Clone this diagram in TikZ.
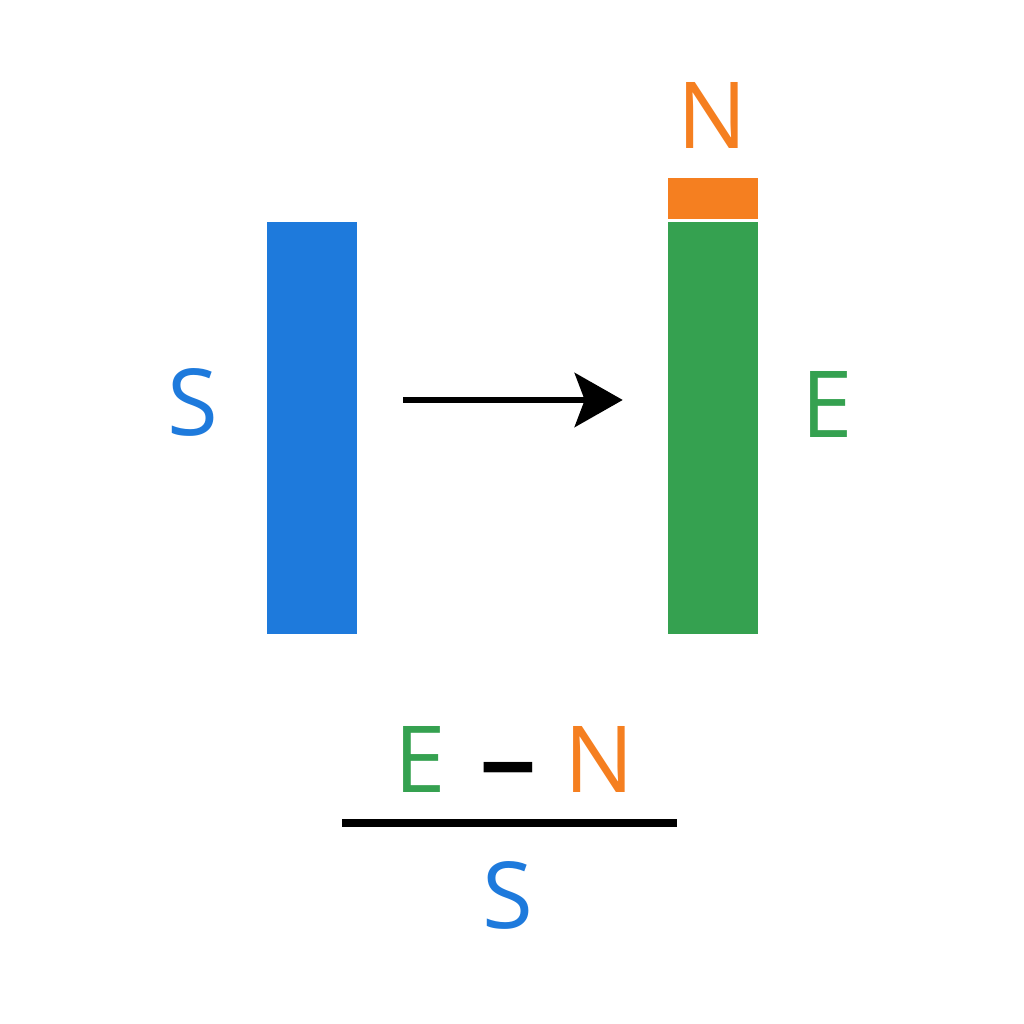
\documentclass[tikz,border=0pt]{standalone}
\usepackage{fontspec}
\setmainfont{Open Sans}
\usepackage{graphicx}
\usepackage{xcolor}
\usepackage{tikz}
\usetikzlibrary{arrows.meta,positioning}
\definecolor{sblue}{RGB}{30,122,220}
\definecolor{egreen}{RGB}{53,161,80}
\definecolor{norange}{RGB}{245,127,32}

\begin{document}
\begin{tikzpicture}[
  x=0.01cm,y=-0.01cm,
  every node/.style={font=\fontsize{26.3pt}{30pt}\selectfont},
  lbl/.style={anchor=base,inner sep=0pt},
  bar/.style={draw=none,inner sep=0pt,minimum width=0.89cm},
  arr/.style={-{Stealth[length=0.48cm,width=0.54cm,inset=0.1cm]},line width=1.8pt,black,
              shorten <=0.46cm,shorten >=0.45cm},
  fracbar/.style={line width=2pt,black}]
\useasboundingbox (0,0) rectangle (1024,1024);
%--- Bars ---
\node[bar,fill=sblue,minimum height=4.12cm]  (sbar) at (312,428) {};
\node[bar,fill=egreen,minimum height=4.12cm] (ebar) at (713,428) {};
\node[bar,fill=norange,minimum height=0.41cm] (nbar) at (713,198.5) {};
%--- Labels ---
\node[lbl,text=sblue]   (slbl) at (193,435) {S};
\node[lbl,text=egreen]  (elbl) at (827,437) {E};
\node[lbl,text=norange] (nlbl) at (712,148) {N};
%--- Arrow ---
\draw[arr] ([yshift=0.28cm]sbar.east) -- ([yshift=0.28cm]ebar.west);
%--- Fraction ---
\node[lbl,text=egreen]  (numE) at (420,792) {E};
\node[lbl,text=black]   (numM) at (508,792) {\scalebox{1.25}[1]{\bfseries –}};
\node[lbl,text=norange] (numN) at (599,792) {N};
\coordinate (fracl) at (342,823);
\coordinate (fracr) at (677,823);
\draw[fracbar] (fracl) -- (fracr);
\node[lbl,text=sblue]   (den)  at (508,928) {S};
\end{tikzpicture}
\end{document}
